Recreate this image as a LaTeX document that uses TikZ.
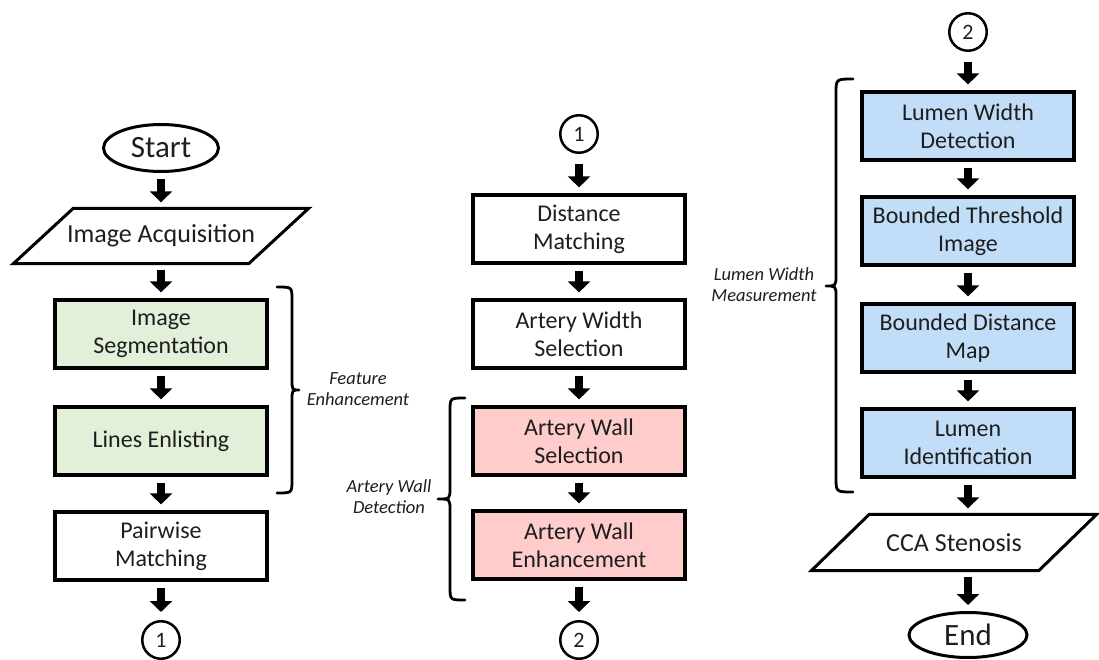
\documentclass[tikz,border=0pt]{standalone}
\usepackage{fontspec}
\setmainfont{Carlito}
\usetikzlibrary{arrows.meta,shapes.geometric}
\definecolor{segGreen}{HTML}{E2EFD9}
\definecolor{wallPink}{HTML}{FFCCCC}
\definecolor{lumenBlue}{HTML}{C2DDF8}
\definecolor{ink}{HTML}{1E1E1E}

\begin{document}
\begin{tikzpicture}[x=1pt,y=-1pt,
  proc/.style={draw, line width=3.2pt, minimum width=212pt, minimum height=68pt,
    inner sep=0pt, align=center, fill=white, text=ink,
    font=\fontsize{24}{28}\selectfont},
  terminal/.style={draw, ellipse, line width=3pt, inner sep=0pt, text=ink,
    font=\fontsize{31}{34}\selectfont},
  connector/.style={draw, circle, line width=2.5pt, minimum size=37.5pt,
    inner sep=0pt, text=ink, font=\fontsize{22}{24}\selectfont},
  iobox/.style={inner sep=0pt, minimum height=55pt, text=ink,
    font=\fontsize{26}{30}\selectfont},
  ioline/.style={line width=3pt, line join=miter},
  flow/.style={line width=8.5pt, -{Triangle[width=22pt,length=11pt]},
    shorten >=6pt, shorten <=6pt},
  curlybrace/.style={line width=2.8pt, line cap=round, line join=round},
  note/.style={align=center, text=ink, font=\itshape\fontsize{18.5}{21}\selectfont}
]
\useasboundingbox (0,0) rectangle (1099,660);

% ---------- left column ----------
\node[terminal, minimum width=115pt, minimum height=47pt] (start) at (161,148) {Start};
\node[iobox, minimum width=295pt] (acq) at (161,236) {Image Acquisition};
\draw[ioline] ([xshift=60pt]acq.north west) -- (acq.north east)
  -- ([xshift=-60pt]acq.south east) -- (acq.south west) -- cycle;
\node[proc, fill=segGreen] (seg) at (161,334) {Image\\Segmentation};
\node[proc, fill=segGreen] (lines) at (161,441) {Lines Enlisting};
\node[proc] (pair) at (161,546) {Pairwise\\Matching};
\node[connector] (c1a) at (161,640) {1};

\draw[flow] (start) -- (acq);
\draw[flow] (acq) -- (seg);
\draw[flow] (seg) -- (lines);
\draw[flow] (lines) -- (pair);
\draw[flow, shorten >=8pt] (pair) -- (c1a);

\draw[curlybrace] (277,287) .. controls (292,287) .. (292,300) -- (292,379)
  .. controls (292,390) .. (299,390) .. controls (292,390) .. (292,401)
  -- (292,480) .. controls (292,493) .. (277,493);
\node[note] (feat) at (358,389) {Feature\\Enhancement};

% ---------- middle column ----------
\node[connector] (c1b) at (579,134) {1};
\node[proc] (dist) at (579,229) {Distance\\Matching};
\node[proc] (awidth) at (579,334) {Artery Width\\Selection};
\node[proc, fill=wallPink] (wsel) at (579,441) {Artery Wall\\Selection};
\node[proc, fill=wallPink] (wenh) at (579,545) {Artery Wall\\Enhancement};
\node[connector] (c2a) at (579,640) {2};

\draw[flow, shorten <=10pt] (c1b) -- (dist);
\draw[flow] (dist) -- (awidth);
\draw[flow] (awidth) -- (wsel);
\draw[flow] (wsel) -- (wenh);
\draw[flow, shorten >=8pt] (wenh) -- (c2a);

\draw[curlybrace] (465,398) .. controls (450,398) .. (450,411) -- (450,488)
  .. controls (450,499) .. (438,499) .. controls (450,499) .. (450,510)
  -- (450,587) .. controls (450,600) .. (465,600);
\node[note] (wall) at (389,497) {Artery Wall\\Detection};

% ---------- right column ----------
\node[connector] (c2b) at (968,32) {2};
\node[proc, fill=lumenBlue] (lwd) at (968,126) {Lumen Width\\Detection};
\node[proc, fill=lumenBlue] (bti) at (968,231) {Bounded Threshold\\Image};
\node[proc, fill=lumenBlue] (bdm) at (968,338) {Bounded Distance\\Map};
\node[proc, fill=lumenBlue] (lid) at (968,443) {Lumen\\Identification};
\node[iobox, minimum width=285pt, minimum height=56pt] (cca) at (954,542.5) {CCA Stenosis};
\draw[ioline] ([xshift=58pt]cca.north west) -- (cca.north east)
  -- ([xshift=-58pt]cca.south east) -- (cca.south west) -- cycle;
\node[terminal, minimum width=118pt, minimum height=45pt] (end) at (968,635) {End};

\draw[flow, shorten <=10pt] (c2b) -- (lwd);
\draw[flow] (lwd) -- (bti);
\draw[flow] (bti) -- (bdm);
\draw[flow] (bdm) -- (lid);
\draw[flow] (lid.south) -- (lid.south |- cca.north);
\draw[flow] (end.north |- cca.south) -- (end.north);

\draw[curlybrace] (853,79) .. controls (836,79) .. (836,93) -- (836,275)
  .. controls (836,286) .. (826,286) .. controls (836,286) .. (836,297)
  -- (836,478) .. controls (836,492) .. (853,492);
\node[note] (lumen) at (764,285) {Lumen Width\\Measurement};
\end{tikzpicture}
\end{document}
